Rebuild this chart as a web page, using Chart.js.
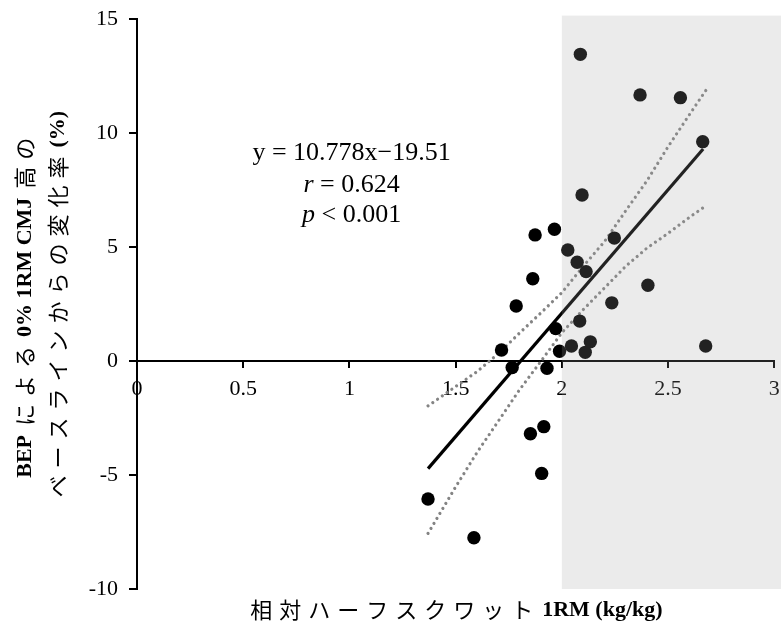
<!DOCTYPE html>
<html>
<head>
<meta charset="utf-8">
<script src="https://cdn.jsdelivr.net/npm/chart.js@4.4.1/dist/chart.umd.min.js"></script>
<style>
  html, body { margin: 0; padding: 0; background: #fff; }
  #wrap { width: 781px; height: 628px; }
</style>
</head>
<body>
<div id="wrap"><canvas id="chart" width="781" height="628"></canvas></div>
<script>
// relative half squat 1RM (kg/kg) vs CMJ height change (%)
const strengthX = [2.087, 2.368, 2.558, 2.663, 2.095, 1.965, 1.874, 2.247, 2.028, 2.072,
                   2.114, 1.863, 2.405, 2.235, 1.785, 2.084, 1.971, 1.716, 1.989, 2.045,
                   2.134, 2.110, 2.677, 1.766, 1.930, 1.915, 1.852, 1.905, 1.370, 1.586];
const changeY   = [13.45, 11.67, 11.55, 9.62, 7.28, 5.78, 5.53, 5.39, 4.87, 4.33,
                   3.92, 3.61, 3.32, 2.55, 2.41, 1.75, 1.42, 0.48, 0.43, 0.66,
                   0.84, 0.38, 0.66, -0.29, -0.32, -2.88, -3.19, -4.93, -6.05, -7.75];

// regression line y = 10.778x - 19.51, drawn over the data range
const fitX = [1.37, 2.665];
const fitY = [-4.72, 9.30];

// dotted confidence band
const bandX     = [1.37, 1.5, 1.6, 1.7, 1.8, 1.9, 2.0, 2.1, 2.2, 2.3, 2.4, 2.5, 2.6, 2.68];
const bandUpper = [-1.97, -1.12, -0.47, 0.32, 1.22, 2.10, 3.00, 4.15, 5.23, 6.58, 7.90, 9.40, 10.80, 11.90];
const bandLower = [-7.56, -5.52, -4.02, -2.65, -1.27, -0.03, 1.24, 2.25, 3.20, 4.15, 4.95, 5.60, 6.30, 6.82];

const xRange = [0, 3];
const yRange = [-10, 15];
const xStep = 0.5;
const yStep = 5;
const shadeX = [2, 3];
const shadeY = [-10, 15.15];

const noteLines = ["y = 10.778x\u221219.51", "r = 0.624", "p < 0.001"];

const SERIF = '"Liberation Serif", "Times New Roman", serif';
const JP = '"Noto Sans CJK JP", sans-serif';
const CJK_STEP = 29;

function toPoints(xs, ys) {
    return xs.map((x, i) => ({ x, y: ys[i] }));
}

// draw a line made of runs of different fonts, centred on (cx, cy)
function drawRuns(ctx, runs, cx, cy) {
    ctx.textBaseline = "middle";
    const widths = runs.map(r => {
        ctx.font = r.font;
        return r.cjk ? r.text.length * CJK_STEP : ctx.measureText(r.text).width;
    });
    const total = widths.reduce((a, b) => a + b, 0);
    let x = cx - total / 2;
    runs.forEach((r, i) => {
        ctx.font = r.font;
        if (r.cjk) {
            ctx.textAlign = "center";
            [...r.text].forEach((ch, k) => ctx.fillText(ch, x + CJK_STEP * (k + 0.5), cy));
        } else {
            ctx.textAlign = "left";
            ctx.fillText(r.text, x, cy);
        }
        x += widths[i];
    });
}

const bold = `bold 22px ${SERIF}`;
const jpFont = `22px ${JP}`;

// no extra room for end labels, the plot box is set by layout padding
function noPad(s) {
    s.paddingLeft = 0;
    s.paddingRight = 0;
    s.paddingTop = 0;
    s.paddingBottom = 0;
}

const shadePlugin = {
    id: "shade",
    afterDatasetsDraw(chart) {
        const { ctx, width, scales: { x, y } } = chart;
        const left = x.getPixelForValue(shadeX[0]);
        const top = y.getPixelForValue(shadeY[1]);
        const bottom = y.getPixelForValue(shadeY[0]);
        ctx.save();
        ctx.fillStyle = "rgba(160,160,160,0.21)";
        ctx.fillRect(left, top, width - left, bottom - top);
        ctx.restore();
    }
};

const textPlugin = {
    id: "texts",
    afterDraw(chart) {
        const { ctx, chartArea, scales: { x, y } } = chart;
        ctx.save();
        ctx.fillStyle = "#000";

        // y axis title, two rotated lines
        const midY = (chartArea.top + chartArea.bottom) / 2 + 2;
        const line1 = [
            { text: "BEP", font: bold },
            { text: " ", font: bold },
            { text: "による", font: jpFont, cjk: true },
            { text: " 0% 1RM CMJ ", font: bold },
            { text: "高の", font: jpFont, cjk: true }
        ];
        const line2 = [
            { text: "ベースラインからの変化率", font: jpFont, cjk: true },
            { text: " (%)", font: bold }
        ];
        [[line1, chartArea.left - 112], [line2, chartArea.left - 79]].forEach(([runs, lx]) => {
            ctx.save();
            ctx.translate(lx, midY);
            ctx.rotate(-Math.PI / 2);
            drawRuns(ctx, runs, 0, 0);
            ctx.restore();
        });

        // x axis title
        drawRuns(ctx, [
            { text: "相対ハーフスクワット", font: jpFont, cjk: true },
            { text: " 1RM (kg/kg)", font: bold }
        ], (chartArea.left + chartArea.right) / 2 - 1, chartArea.bottom + 21);

        // regression note
        const nx = x.getPixelForValue(1.01);
        const noteY = [9.12, 7.72, 6.38];
        const reg = `26px ${SERIF}`;
        const ita = `italic 26px ${SERIF}`;
        drawRuns(ctx, [{ text: noteLines[0], font: reg }], nx, y.getPixelForValue(noteY[0]));
        drawRuns(ctx, [{ text: noteLines[1][0], font: ita }, { text: noteLines[1].slice(1), font: reg }],
            nx, y.getPixelForValue(noteY[1]));
        drawRuns(ctx, [{ text: noteLines[2][0], font: ita }, { text: noteLines[2].slice(1), font: reg }],
            nx, y.getPixelForValue(noteY[2]));
        ctx.restore();
    }
};

const bandStyle = {
    showLine: true,
    pointRadius: 0,
    borderColor: "#848484",
    borderWidth: 3.2,
    borderDash: [0.01, 5.8],
    borderCapStyle: "round",
    fill: false,
    order: 3
};

new Chart(document.getElementById("chart"), {
    type: "scatter",
    data: {
        datasets: [
            { label: "upper", data: toPoints(bandX, bandUpper), ...bandStyle },
            { label: "lower", data: toPoints(bandX, bandLower), ...bandStyle },
            {
                label: "fit", data: toPoints(fitX, fitY), showLine: true, pointRadius: 0,
                borderColor: "#000", borderWidth: 3.2, order: 2
            },
            {
                label: "subjects", data: toPoints(strengthX, changeY), pointRadius: 6.7,
                pointBackgroundColor: "#000", pointBorderWidth: 0, order: 1
            }
        ]
    },
    options: {
        responsive: false,
        animation: false,
        layout: { padding: { top: 19, right: 6, bottom: 39, left: 0 } },
        plugins: { legend: { display: false }, tooltip: { enabled: false } },
        scales: {
            x: {
                type: "linear",
                position: { y: 0 },
                min: xRange[0], max: xRange[1],
                ticks: {
                    stepSize: xStep, color: "#000", padding: 9, maxRotation: 0, autoSkip: false,
                    font: { family: SERIF, size: 22 },
                    callback: v => String(v)
                },
                grid: { drawOnChartArea: false, drawTicks: true, tickLength: 6, color: "#000", lineWidth: 2 },
                border: { display: true, color: "#000", width: 2 },
                afterFit: noPad
            },
            y: {
                min: yRange[0], max: yRange[1],
                ticks: { stepSize: yStep, color: "#000", padding: 11, font: { family: SERIF, size: 22 } },
                grid: { drawOnChartArea: false, drawTicks: true, tickLength: 8, color: "#000", lineWidth: 2 },
                border: { display: true, color: "#000", width: 2 },
                afterFit: s => { noPad(s); s.width = 137; }
            }
        }
    },
    plugins: [shadePlugin, textPlugin]
});
</script>
</body>
</html>
